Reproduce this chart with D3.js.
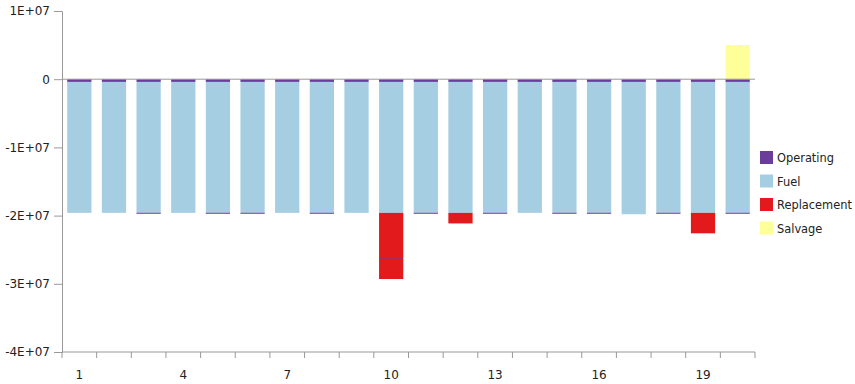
<!DOCTYPE html>
<html><head><meta charset="utf-8">
<script src="https://cdn.jsdelivr.net/npm/d3@7"></script>
<style>body{margin:0;background:#fff}svg{display:block}text{font-family:Tahoma,"DejaVu Sans",Verdana,sans-serif;fill:#222}</style>
</head><body><svg id="c" width="855" height="384"></svg>
<script>
const categories = d3.range(1, 21).map(String);
const operating = [-4e5,-4e5,-4e5,-4e5,-4e5,-4e5,-4e5,-4e5,-4e5,-4e5,-4e5,-4e5,-4e5,-4e5,-4e5,-4e5,-4e5,-4e5,-4e5,-4e5];
const fuel = [-1.92e7,-1.92e7,-1.92e7,-1.92e7,-1.92e7,-1.92e7,-1.92e7,-1.92e7,-1.92e7,-1.92e7,-1.92e7,-1.92e7,-1.92e7,-1.92e7,-1.92e7,-1.92e7,-1.94e7,-1.92e7,-1.92e7,-1.92e7];
const replacement = [0,0,0,0,0,0,0,0,0,-9.7e6,0,-1.55e6,0,0,0,0,0,0,-3.0e6,0];
const salvage = [0,0,0,0,0,0,0,0,0,0,0,0,0,0,0,0,0,0,0,5.0e6];
// thin operating hairlines seen in some bars (value position), null = none
const operatingLine = [null,null,-1.965e7,null,-1.965e7,-1.965e7,null,-1.965e7,null,-2.62e7,-1.965e7,null,-1.965e7,null,-1.965e7,-1.965e7,null,-1.965e7,null,-1.965e7];
const yTicks = [1e7, 0, -1e7, -2e7, -3e7, -4e7];
const xLabels = ["1","4","7","10","13","16","19"];
const seriesNames = ["Operating","Fuel","Replacement","Salvage"];
const colors = ["#6a3d9a","#a6cee3","#e31a1c","#ffff99"];

const svg = d3.select("#c");
const pL = 62, pR = 755, pT = 11, pB = 352;
const x = d3.scaleBand().domain(categories).range([pL, pR]).paddingInner(0.3).paddingOuter(0.15);
const y = d3.scaleLinear().domain([-4e7, 1e7]).range([pB, pT]);

const table = categories.map((c, i) => ({cat: c, Operating: operating[i], Fuel: fuel[i], Replacement: replacement[i], Salvage: salvage[i]}));
const stack = d3.stack().keys(seriesNames).offset(d3.stackOffsetDiverging);
const layers = stack(table);

const g = svg.append("g");
layers.forEach((layer, k) => {
  g.selectAll(null).data(layer.filter(d => d[1] !== d[0])).enter().append("rect")
    .attr("x", d => x(d.data.cat))
    .attr("width", x.bandwidth())
    .attr("y", d => y(Math.max(d[0], d[1])))
    .attr("height", d => Math.abs(y(d[0]) - y(d[1])))
    .attr("fill", colors[k]);
});
g.selectAll(null).data(categories.map((c, i) => ({c, v: operatingLine[i]})).filter(d => d.v !== null))
  .enter().append("rect")
  .attr("x", d => x(d.c)).attr("width", x.bandwidth())
  .attr("y", d => y(d.v) - 0.5).attr("height", 1.2).attr("fill", colors[0]).attr("opacity", 0.85);

// zero line
svg.append("line").attr("x1", pL).attr("x2", pR).attr("y1", y(0)).attr("y2", y(0)).attr("stroke", "#999").attr("stroke-width", 1);

// y axis
const yAxis = d3.axisLeft(y).tickValues(yTicks).tickSize(8).tickPadding(4)
  .tickFormat(d => d === 0 ? "0" : (d < 0 ? "-" : "") + Math.abs(d / 1e7) + "E+07");
const ya = svg.append("g").attr("transform", `translate(${pL},0)`).call(yAxis);
ya.select(".domain").attr("stroke", "#999");
ya.selectAll(".tick line").attr("stroke", "#999");
ya.selectAll("text").style("font-size", "12px").attr("fill", "#222");

// x axis: ticks at band boundaries, labels at selected centers
const xa = svg.append("g");
xa.append("line").attr("x1", pL).attr("x2", pR).attr("y1", pB).attr("y2", pB).attr("stroke", "#999");
const bounds = categories.map(c => x(c) - x.step() * x.paddingInner() / 2).concat([pR]);
xa.selectAll(null).data(bounds).enter().append("line")
  .attr("x1", d => d).attr("x2", d => d).attr("y1", pB).attr("y2", pB + 6).attr("stroke", "#999");
xa.selectAll(null).data(xLabels).enter().append("text")
  .attr("x", d => x(d) + x.bandwidth() / 2).attr("y", pB + 27)
  .attr("text-anchor", "middle").style("font-size", "12px").text(d => d);

// legend
const lg = svg.append("g").attr("transform", "translate(760,151)");
seriesNames.forEach((n, i) => {
  const r = lg.append("g").attr("transform", `translate(0,${i * 23.5})`);
  r.append("rect").attr("width", 13).attr("height", 13).attr("fill", colors[i]);
  r.append("text").attr("x", 17).attr("y", 11).style("font-size", "11.4px").text(n);
});
</script></body></html>
